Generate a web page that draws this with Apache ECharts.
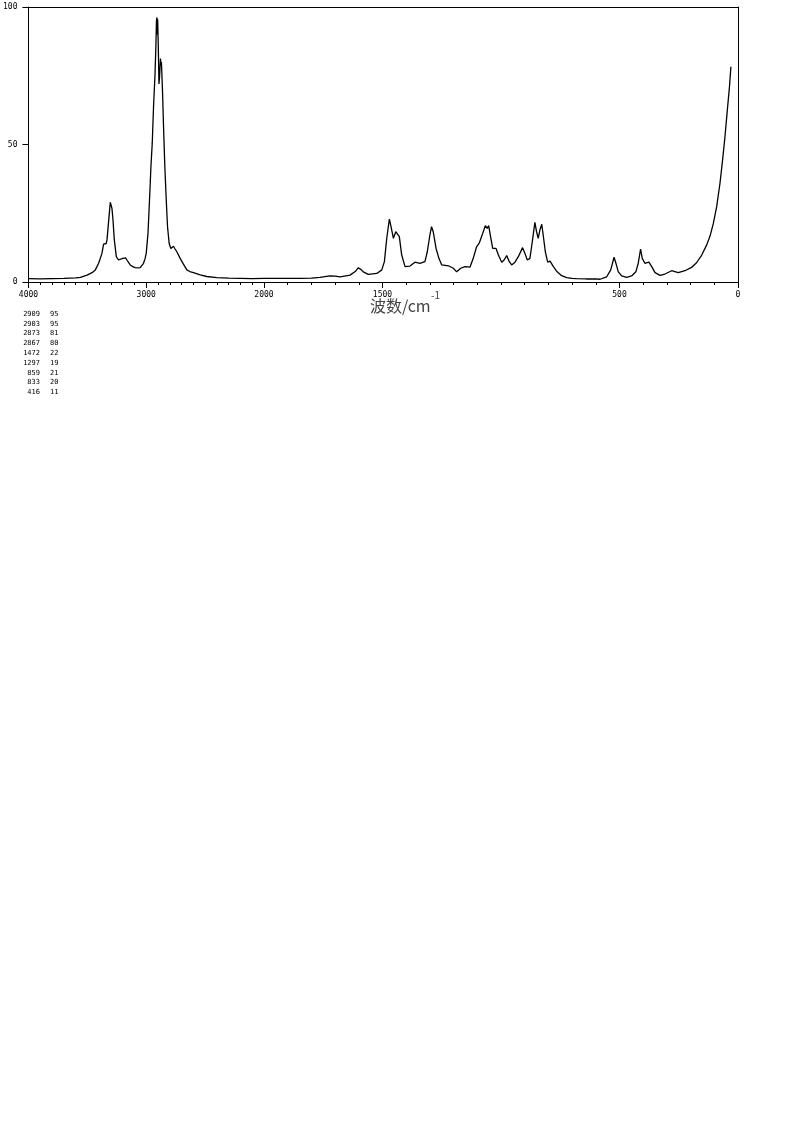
<!DOCTYPE html>
<html>
<head>
<meta charset="utf-8">
<script src="https://cdn.jsdelivr.net/npm/echarts@6/dist/echarts.min.js"></script>
<style>
html,body{margin:0;padding:0;background:#fff;}
#chart{width:794px;height:1134px;}
</style>
</head>
<body>
<div id="chart"></div>
<script>
// Spectrum: wavenumber (cm-1) and intensity
const wavenumbers = [
4000,3900,3800,3700,3650,3600,3559,3503,3460,3432,3404,3376,3362,3350,3340,3333,3316,3305,3298,3291,
3282,3271,3254,3235,3220,3200,3186,3175,3164,3136,3110,3093,3070,3051,3035,3023,3010,3000,2985,2972,
2960,2949,2938,2926,2918,2913,2909,2906,2903,2898,2892,2887,2883,2879,2875,2871,2867,2862,2853,2842,
2830,2819,2805,2791,2780,2769,2755,2740,2712,2684,2655,2630,2599,2542,2486,2401,2300,2200,2100,2000,
1900,1848,1800,1764,1722,1700,1679,1637,1615,1602,1592,1581,1560,1524,1503,1492,1482,1471,1464,1454,
1444,1436,1429,1419,1405,1384,1363,1342,1321,1311,1300,1293,1286,1274,1262,1250,1222,1201,1187,1170,
1152,1131,1117,1103,1092,1077,1066,1058,1052,1044,1035,1021,1011,997,987,976,965,955,941,927,
909,899,889,878,866,857,850,843,836,828,822,813,803,793,779,763,744,723,700,681,
640,600,582,554,537,523,515,505,491,470,449,431,421,411,404,393,376,364,350,329,
308,280,252,224,196,175,153,132,118,104,90,76,65,55,45,36,30
];
const intensities = [
1.2,1.1,1.2,1.3,1.4,1.5,1.7,2.5,3.4,4.4,6.8,10.4,13.8,13.3,14.0,15.3,23.7,29.0,28.5,26.8,
22.5,15.3,9.2,8.0,8.0,8.6,9.2,8.8,8.0,6.2,5.5,5.2,5.1,5.2,5.8,6.8,8.5,10.4,17.7,29.8,
42.0,50.4,63.7,74.7,85.6,95.0,96.2,90.0,95.5,86.8,72.0,74.5,78.0,81.3,79.0,80.0,79.5,69.8,56.5,42.0,
29.8,20.0,14.0,12.2,12.8,13.0,12.0,11.0,8.6,6.5,4.4,3.8,3.4,2.6,2.0,1.6,1.4,1.3,1.2,1.3,
1.3,1.3,1.4,1.7,2.2,2.1,1.9,2.5,3.8,5.2,4.6,3.7,2.8,3.1,4.4,7.4,15.9,22.9,20.1,15.9,
18.3,18.9,16.5,9.8,5.6,5.8,7.2,6.8,7.4,11.0,17.1,20.1,18.3,12.2,8.6,6.2,5.9,5.0,3.7,5.0,
5.6,5.4,8.6,12.8,14.1,17.7,20.5,19.5,20.5,16.5,12.2,12.2,9.8,7.2,8.0,9.6,7.4,6.2,7.2,9.2,
12.5,10.4,8.0,8.6,15.9,21.7,18.3,15.9,18.9,21.0,17.1,11.0,7.2,7.6,5.6,3.7,2.3,1.6,1.3,1.2,
1.1,1.1,1.0,1.9,4.4,9.0,6.8,3.7,2.2,1.7,2.2,3.7,6.8,12.0,8.6,6.8,7.2,5.6,3.4,2.4,
2.9,4.1,3.4,4.1,5.3,7.0,9.8,13.5,16.7,21.3,27.4,35.9,44.4,52.8,62.5,71.0,78.3
];

// Peak table
const peakWavenumbers = [2909, 2903, 2873, 2867, 1472, 1297, 859, 833, 416];
const peakIntensities = [95, 95, 81, 80, 22, 19, 21, 20, 11];

// Axis ticks
const xLabelsHigh = [4000, 3000, 2000];
const xLabelsLow = [1500, 500, 0];
const xMajorLow = [1500, 500, 0];
const yTicks = [0, 50, 100];
const xTitle = '波数/cm';
const xTitleSup = '-1';

const highData = [], lowData = [];
wavenumbers.forEach((w, i) => {
  if (w >= 2000) highData.push([w, intensities[i]]);
  if (w <= 2000) lowData.push([w, intensities[i]]);
});

const monoFont = '"DejaVu Sans Mono", "Liberation Mono", monospace';
const black = '#000';

function mainX(gi, min, max, labels) {
  return {
    gridIndex: gi, type: 'value', min: min, max: max, inverse: true, position: 'bottom',
    interval: 100,
    axisLine: {show: true, onZero: false, lineStyle: {color: black, width: 1}},
    axisTick: {show: true, length: 3, lineStyle: {color: black, width: 1}},
    axisLabel: {
      show: true, margin: 9, color: black, fontSize: 8, fontFamily: monoFont,
      showMinLabel: true, showMaxLabel: true,
      formatter: v => labels.indexOf(v) >= 0 ? String(v) : ''
    },
    splitLine: {show: false}
  };
}
function overlayX(gi, min, max, tickVals) {
  return {
    gridIndex: gi, type: 'value', min: min, max: max, inverse: true, position: 'bottom',
    interval: 500,
    axisLine: {show: false, onZero: false},
    axisTick: {show: true, length: 6, customValues: tickVals, lineStyle: {color: black, width: 1}},
    axisLabel: {show: false},
    splitLine: {show: false}
  };
}
function topX(gi, min, max) {
  return {
    gridIndex: gi, type: 'value', min: min, max: max, inverse: true, position: 'top',
    axisLine: {show: true, onZero: false, lineStyle: {color: black, width: 1}},
    axisTick: {show: false}, axisLabel: {show: false}, splitLine: {show: false}
  };
}

const chart = echarts.init(document.getElementById('chart'), null, {renderer: 'canvas'});
chart.setOption({
  backgroundColor: '#fff',
  animation: false,
  grid: [
    {left: 28, top: 7, width: 236, height: 275},
    {left: 264, top: 7, width: 474, height: 275}
  ],
  xAxis: [
    mainX(0, 2000, 4000, xLabelsHigh),
    overlayX(0, 2000, 4000, xLabelsHigh),
    topX(0, 2000, 4000),
    mainX(1, 0, 2000, xLabelsLow),
    overlayX(1, 0, 2000, xMajorLow),
    topX(1, 0, 2000)
  ],
  yAxis: [
    {
      gridIndex: 0, type: 'value', min: 0, max: 100, interval: 50, position: 'left',
      axisLine: {show: true, onZero: false, lineStyle: {color: black, width: 1}},
      axisTick: {show: true, length: 6, lineStyle: {color: black, width: 1}},
      axisLabel: {show: true, margin: 11, color: black, fontSize: 8, fontFamily: monoFont,
        formatter: v => yTicks.indexOf(v) >= 0 ? String(v) : ''},
      splitLine: {show: false}
    },
    {
      gridIndex: 1, type: 'value', min: 0, max: 100, position: 'right',
      axisLine: {show: true, onZero: false, lineStyle: {color: black, width: 1}},
      axisTick: {show: false}, axisLabel: {show: false}, splitLine: {show: false}
    }
  ],
  series: [
    {type: 'line', xAxisIndex: 0, yAxisIndex: 0, data: highData, showSymbol: false, silent: true,
     lineStyle: {color: black, width: 1.3}},
    {type: 'line', xAxisIndex: 3, yAxisIndex: 1, data: lowData, showSymbol: false, silent: true,
     lineStyle: {color: black, width: 1.3}}
  ],
  graphic: [
    {type: 'text', x: 370, y: 298, style: {text: xTitle, font: '16px "Noto Sans CJK SC", sans-serif',
      fill: '#444', textVerticalAlign: 'top'}},
    {type: 'text', x: 431, y: 290, style: {text: xTitleSup, font: '10px "Noto Sans CJK SC", sans-serif',
      fill: '#444', textVerticalAlign: 'top'}},
    {type: 'text', x: 40, y: 309, style: {text: peakWavenumbers.join('\n'), font: '7px ' + monoFont,
      lineHeight: 9.8, fill: black, align: 'right', verticalAlign: 'top'}},
    {type: 'text', x: 50, y: 309, style: {text: peakIntensities.join('\n'), font: '7px ' + monoFont,
      lineHeight: 9.8, fill: black, align: 'left', verticalAlign: 'top'}}
  ]
});
</script>
</body>
</html>
